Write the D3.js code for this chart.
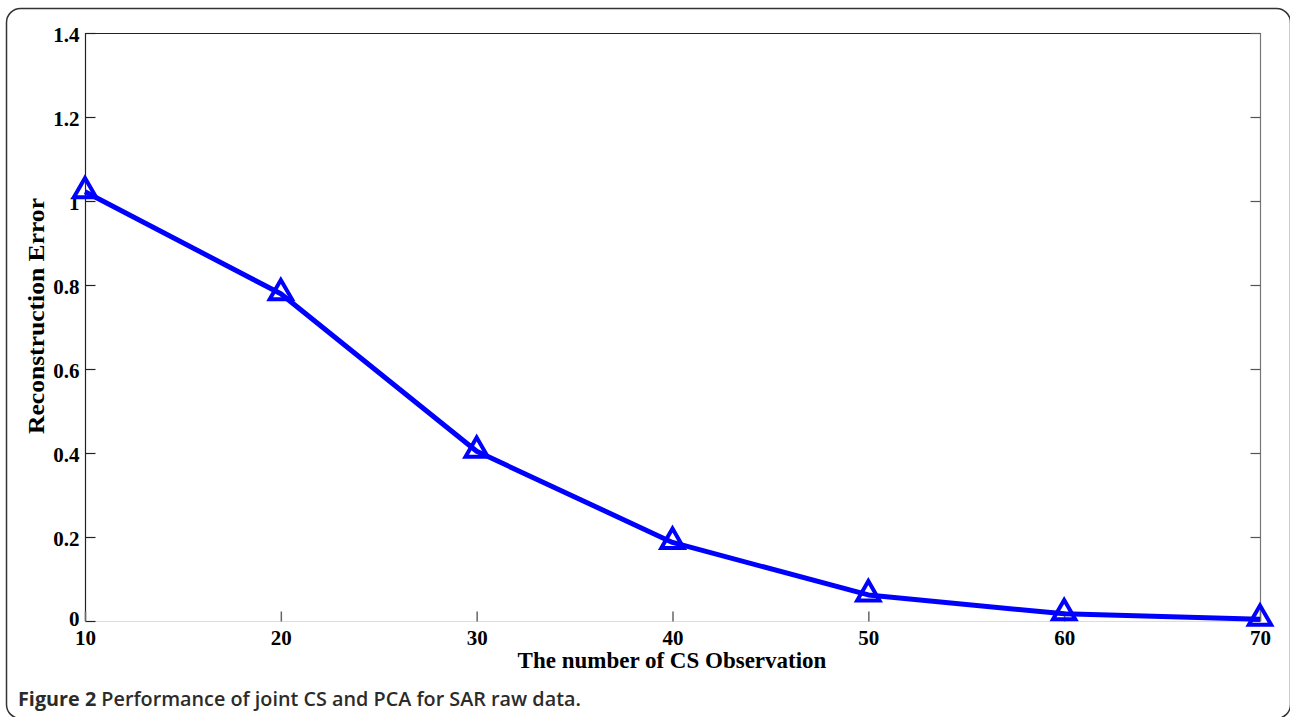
<!DOCTYPE html>
<html><head><meta charset="utf-8">
<script src="https://cdn.jsdelivr.net/npm/d3@7"></script>
<style>html,body{margin:0;padding:0;background:#fff;}svg{display:block;}</style>
</head><body>
<svg id="c" width="1290" height="717"></svg>
<script>
const xValues = [10, 20, 30, 40, 50, 60, 70];
const errorValues = [1.022, 0.779, 0.404, 0.187, 0.062, 0.017, 0.004];
const xTicks = [10, 20, 30, 40, 50, 60, 70];
const yTicks = [0, 0.2, 0.4, 0.6, 0.8, 1, 1.2, 1.4];
const yTickLabels = ["0", "0.2", "0.4", "0.6", "0.8", "1", "1.2", "1.4"];

const svg = d3.select("#c");
const L = 85, R = 1260, T = 33, B = 621;
const x = d3.scaleLinear().domain([10, 70]).range([L, R]);
const y = d3.scaleLinear().domain([0, 1.4]).range([B, T]);

// outer frame
svg.append("rect").attr("x", 6.5).attr("y", 8.5).attr("width", 1284).attr("height", 710)
  .attr("rx", 14).attr("fill", "none").attr("stroke", "#333").attr("stroke-width", 1.5);

// plot box
svg.append("line").attr("x1", L).attr("x2", R).attr("y1", T + 0.5).attr("y2", T + 0.5).attr("stroke", "#222").attr("stroke-width", 1.2);
svg.append("line").attr("x1", L + 0.5).attr("x2", L + 0.5).attr("y1", T).attr("y2", B).attr("stroke", "#222").attr("stroke-width", 1.2);
svg.append("line").attr("x1", R + 0.5).attr("x2", R + 0.5).attr("y1", T).attr("y2", B).attr("stroke", "#777").attr("stroke-width", 1.2);
svg.append("line").attr("x1", L).attr("x2", R).attr("y1", B + 0.5).attr("y2", B + 0.5).attr("stroke", "#ddd").attr("stroke-width", 1.2);

const font = "'Liberation Serif', 'Times New Roman', serif";

// y axis (left) with inward ticks
const yAxisL = svg.append("g").attr("transform", `translate(${L + 0.5},0)`)
  .call(d3.axisLeft(y).tickValues(yTicks).tickSizeInner(-10).tickSizeOuter(0).tickPadding(6)
    .tickFormat((d, i) => yTickLabels[i]));
yAxisL.select(".domain").remove();
yAxisL.selectAll(".tick line").attr("stroke", "#222").attr("stroke-width", 1.2);
yAxisL.selectAll(".tick text").attr("font-family", font).attr("font-weight", "bold").attr("font-size", 21).attr("fill", "#000")
  .attr("dy", d => d === 0 ? "0.2em" : "0.4em");

// y axis (right) ticks
const yAxisR = svg.append("g").attr("transform", `translate(${R + 0.5},0)`)
  .call(d3.axisRight(y).tickValues(yTicks).tickSizeInner(-10).tickSizeOuter(0).tickFormat(""));
yAxisR.select(".domain").remove();
yAxisR.selectAll(".tick line").attr("stroke", "#555").attr("stroke-width", 1.2);

// x axis with inward ticks
const xAxis = svg.append("g").attr("transform", `translate(0,${B + 0.5})`)
  .call(d3.axisBottom(x).tickValues(xTicks).tickSizeInner(-10).tickSizeOuter(0).tickPadding(4).tickFormat(d3.format("d")));
xAxis.select(".domain").remove();
xAxis.selectAll(".tick line").attr("stroke", "#666").attr("stroke-width", 1.5);
xAxis.selectAll(".tick text").attr("font-family", font).attr("font-weight", "bold").attr("font-size", 21).attr("fill", "#000").attr("dy", "0.95em");

// axis titles
svg.append("text").attr("x", 672).attr("y", 668).attr("text-anchor", "middle")
  .attr("font-family", font).attr("font-weight", "bold").attr("font-size", 23).text("The number of CS Observation");
svg.append("text").attr("transform", `translate(44,316) rotate(-90)`).attr("text-anchor", "middle")
  .attr("font-family", font).attr("font-weight", "bold").attr("font-size", 23)
  .attr("textLength", 236).attr("lengthAdjust", "spacingAndGlyphs").text("Reconstruction Error");

// line
const data = xValues.map((v, i) => ({ x: v, y: errorValues[i] }));
svg.append("path").datum(data).attr("fill", "none").attr("stroke", "#0000ff").attr("stroke-width", 5)
  .attr("stroke-linejoin", "round")
  .attr("d", d3.line().x(d => x(d.x)).y(d => y(d.y)));

// triangle markers
const tri = d3.symbol().type(d3.symbolTriangle).size(215);
svg.selectAll(".mk").data(data).join("path").attr("class", "mk")
  .attr("transform", d => `translate(${x(d.x)},${y(d.y) - 1})`)
  .attr("d", tri()).attr("fill", "none").attr("stroke", "#0000ff").attr("stroke-width", 4);

// caption
const cap = svg.append("text").attr("x", 18).attr("y", 706).attr("font-family", "'Open Sans', 'Noto Sans', sans-serif")
  .attr("font-size", 19.8).attr("fill", "#2b2b2b");
cap.append("tspan").attr("font-weight", "bold").text("Figure 2");
cap.append("tspan").attr("font-weight", 600).text(" Performance of joint CS and PCA for SAR raw data.");
</script>
</body></html>
